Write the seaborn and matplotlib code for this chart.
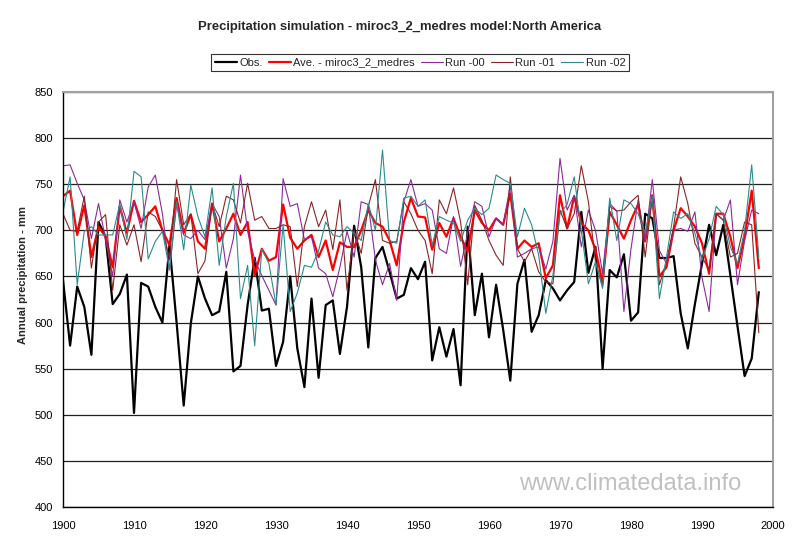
import numpy as np
import pandas as pd
import matplotlib.pyplot as plt
import seaborn as sns

years = list(range(1900, 1999))

obs = [646, 575, 639, 617, 565, 709, 693, 620, 631, 652,
       502, 643, 639, 617, 600, 684, 600, 510, 599, 650,
       626, 608, 612, 655, 547, 553, 619, 670, 613, 615,
       553, 579, 650, 572, 530, 626, 540, 619, 624, 566,
       617, 705, 660, 573, 670, 682, 655, 626, 630, 659,
       647, 666, 559, 595, 563, 593, 532, 704, 608, 653,
       584, 641, 592, 537, 642, 668, 590, 608, 646, 637,
       624, 635, 644, 720, 654, 682, 550, 657, 649, 674,
       602, 611, 718, 713, 670, 670, 672, 610, 572, 620,
       664, 706, 673, 706, 651, 596, 542, 561, 633]

ave = [737, 743, 695, 727, 671, 704, 693, 660, 726, 697,
       732, 709, 717, 726, 700, 684, 735, 697, 717, 688,
       680, 729, 688, 702, 718, 695, 709, 651, 680, 667,
       671, 728, 692, 680, 689, 695, 671, 689, 657, 687,
       682, 682, 700, 722, 708, 704, 689, 662, 709, 735,
       715, 714, 679, 708, 693, 713, 693, 677, 722, 708,
       700, 713, 706, 740, 680, 689, 682, 686, 648, 662,
       738, 702, 737, 708, 700, 679, 643, 720, 706, 691,
       711, 728, 688, 738, 650, 660, 700, 724, 715, 704,
       686, 653, 718, 718, 693, 659, 693, 743, 659]

run00 = [770, 771, 751, 733, 691, 729, 690, 650, 733, 709,
         731, 702, 747, 760, 718, 657, 728, 695, 691, 700,
         690, 729, 715, 659, 691, 760, 699, 668, 651, 635,
         619, 756, 726, 729, 690, 693, 659, 653, 628, 660,
         699, 671, 731, 728, 668, 641, 664, 624, 731, 755,
         726, 729, 722, 680, 675, 715, 661, 697, 731, 726,
         693, 713, 706, 749, 671, 675, 680, 682, 658, 688,
         778, 722, 738, 682, 722, 700, 653, 729, 721, 612,
         680, 733, 688, 755, 678, 664, 700, 702, 699, 720,
         649, 612, 718, 711, 733, 641, 689, 722, 718]

run01 = [718, 700, 699, 737, 659, 709, 717, 635, 706, 684,
         706, 666, 720, 715, 700, 670, 755, 706, 718, 653,
         667, 729, 704, 737, 733, 708, 751, 711, 715, 702,
         702, 706, 704, 639, 704, 731, 704, 722, 679, 733,
         635, 700, 675, 726, 755, 689, 686, 688, 731, 718,
         700, 689, 653, 733, 718, 746, 709, 641, 727, 711,
         689, 673, 662, 758, 680, 666, 680, 655, 644, 642,
         722, 702, 718, 770, 731, 666, 639, 726, 721, 722,
         731, 738, 671, 737, 641, 666, 704, 758, 729, 686,
         671, 657, 718, 711, 671, 675, 709, 706, 589]

run02 = [720, 758, 641, 699, 704, 695, 695, 695, 729, 690,
         764, 758, 669, 688, 699, 657, 731, 679, 749, 715,
         693, 746, 662, 715, 751, 626, 662, 575, 680, 664,
         619, 706, 612, 632, 662, 660, 678, 709, 695, 693,
         704, 697, 689, 729, 700, 787, 689, 686, 735, 737,
         726, 733, 684, 715, 711, 708, 688, 711, 724, 717,
         724, 760, 755, 751, 693, 724, 706, 673, 610, 651,
         718, 728, 758, 700, 642, 666, 637, 735, 689, 733,
         729, 718, 697, 737, 626, 671, 720, 713, 718, 697,
         668, 691, 726, 717, 682, 664, 700, 771, 671]

sns.set_style('white')
plt.rcParams['font.family'] = ['Liberation Sans', 'DejaVu Sans']

fig = plt.figure(figsize=(8, 5.46), dpi=100)
ax = fig.add_axes([63 / 800, 1 - 507 / 546, 710 / 800, 415 / 546])

series = [
    ('Obs.', obs, 'black', 1.6),
    ('Ave. - miroc3_2_medres', ave, '#ff0000', 1.6),
    ('Run -00', run00, '#8e2a9c', 0.8),
    ('Run -01', run01, '#8b2525', 0.8),
    ('Run -02', run02, '#2a8c8c', 0.8),
]
for name, vals, col, lw in series:
    sns.lineplot(x=years, y=vals, color=col, linewidth=lw, label=name, ax=ax)

ax.set_xlim(1900, 2000)
ax.set_ylim(400, 850)
ax.set_xticks(range(1900, 2001, 10))
ax.set_yticks(range(400, 851, 50))
ax.yaxis.grid(True, color='#202020', linewidth=0.9)
ax.set_axisbelow(True)
ax.set_xlabel('')
ax.set_ylabel('')
for side in ['left', 'bottom']:
    ax.spines[side].set_color('black')
    ax.spines[side].set_linewidth(1)
for side in ['top', 'right']:
    ax.spines[side].set_color('#a0a0a0')
    ax.spines[side].set_linewidth(1.5)
ax.tick_params(direction='out', length=4, width=0.8, labelsize=8, colors='black', pad=3)
ax.tick_params(axis='x', pad=6)

ax.legend(loc='center', bbox_to_anchor=(420 / 800, 1 - 62.5 / 546), bbox_transform=fig.transFigure,
          ncol=5, frameon=True, fancybox=False, edgecolor='black', fontsize=8,
          handlelength=2.0, columnspacing=0.55, handletextpad=0.2, borderpad=0.35,
          borderaxespad=0).get_frame().set_linewidth(0.8)

fig.text(400 / 800, 1 - 27 / 546, 'Precipitation simulation - miroc3_2_medres model:North America',
         ha='center', va='center', fontsize=9.4, fontweight='bold')
fig.text(23 / 800, 1 - 275 / 546, 'Annual precipitation - mm', rotation=90,
         ha='center', va='center', fontsize=8, fontweight='bold')
fig.text(630 / 800, 1 - 484 / 546, 'www.climatedata.info', ha='center', va='center',
         fontsize=17, color='#c0c0c0')

plt.savefig('out.png', dpi=100)
